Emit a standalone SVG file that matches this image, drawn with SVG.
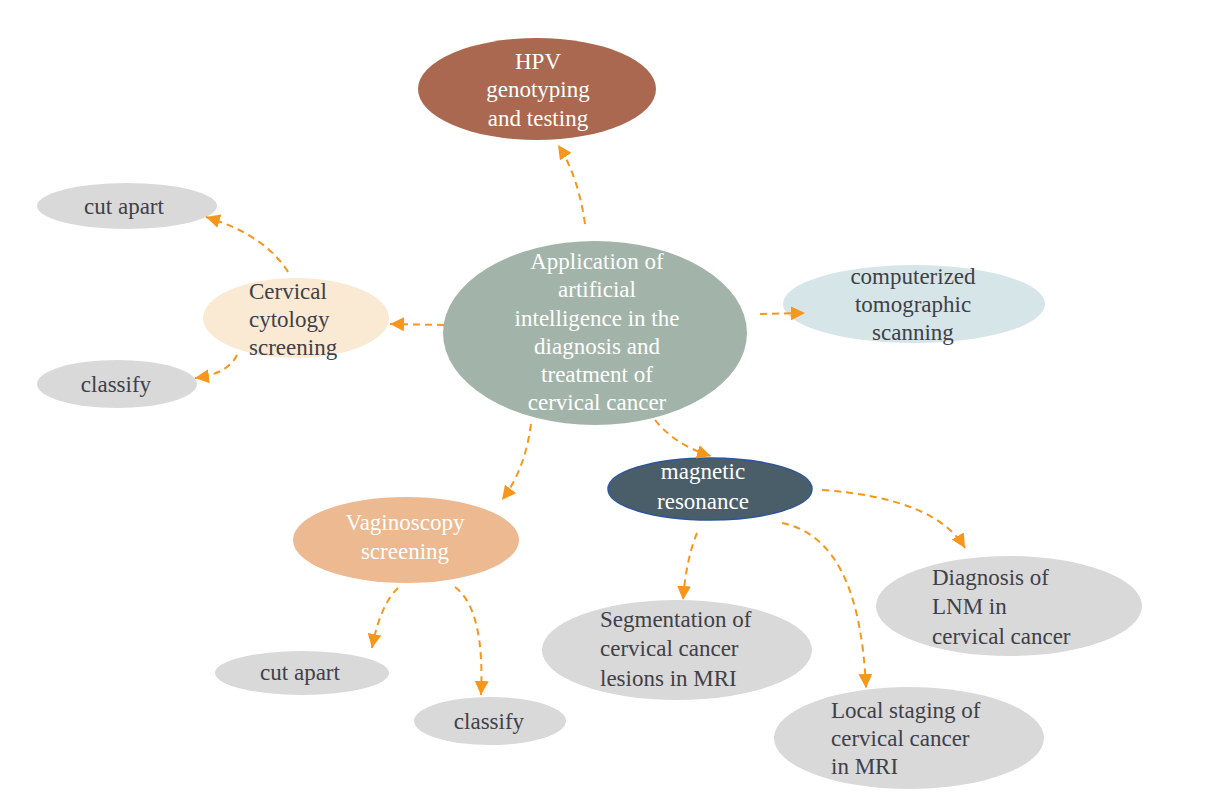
<svg xmlns="http://www.w3.org/2000/svg" width="1220" height="811" viewBox="0 0 1220 811" font-family="'Liberation Serif', 'Times New Roman', serif">
<style>
text{font-family:"Liberation Serif","Times New Roman",serif;font-size:23px}
.w{fill:#ffffff}
.d{fill:#404048}
.c{text-anchor:middle}
.gray{fill:#d9d9d9}
.edge{fill:none;stroke:#f7961d;stroke-width:2;stroke-dasharray:7 5}
</style>
<defs>
<marker id="ah" markerUnits="userSpaceOnUse" markerWidth="16" markerHeight="14" refX="14" refY="7" orient="auto">
<path d="M0,0 L14,7 L0,14 z" fill="#f7961d"/>
</marker>
</defs>
<rect width="1220" height="811" fill="#ffffff"/>
<g id="hpv">
<ellipse cx="537" cy="89" rx="119" ry="51" fill="#aa6850"/>
<text class="w c" x="538" y="69">HPV</text>
<text class="w c" x="538" y="97">genotyping</text>
<text class="w c" x="538" y="126">and testing</text>
</g>
<g id="center">
<ellipse cx="595" cy="333" rx="152" ry="92" fill="#a2b4a9"/>
<text class="w c" x="597" y="269">Application of</text>
<text class="w c" x="597" y="297">artificial</text>
<text class="w c" x="597" y="326">intelligence in the</text>
<text class="w c" x="597" y="354">diagnosis and</text>
<text class="w c" x="597" y="382">treatment of</text>
<text class="w c" x="597" y="410">cervical cancer</text>
</g>
<g id="ct">
<ellipse cx="914" cy="304" rx="131" ry="39" fill="#d6e5e7"/>
<text class="d c" x="913" y="284">computerized</text>
<text class="d c" x="913" y="312">tomographic</text>
<text class="d c" x="913" y="340">scanning</text>
</g>
<g id="cytology">
<ellipse cx="296" cy="318" rx="93" ry="40" fill="#fae9d3"/>
<text class="d" x="249" y="299">Cervical</text>
<text class="d" x="249" y="327">cytology</text>
<text class="d" x="249" y="355">screening</text>
</g>
<g id="cutapart1">
<ellipse cx="127" cy="206" rx="90" ry="23" class="gray"/>
<text class="d c" x="124" y="214">cut apart</text>
</g>
<g id="classify1">
<ellipse cx="117" cy="384" rx="80" ry="24" class="gray"/>
<text class="d c" x="116" y="392">classify</text>
</g>
<g id="vaginoscopy">
<ellipse cx="406" cy="540" rx="113" ry="43" fill="#edb990"/>
<text class="w c" x="405" y="530">Vaginoscopy</text>
<text class="w c" x="405" y="559">screening</text>
</g>
<g id="mri">
<ellipse cx="710" cy="489" rx="102" ry="31" fill="#4a5e6a" stroke="#2f5597" stroke-width="1.5"/>
<text class="w c" x="703" y="479">magnetic</text>
<text class="w c" x="703" y="509">resonance</text>
</g>
<g id="segmentation">
<ellipse cx="677" cy="650" rx="135" ry="50" class="gray"/>
<text class="d" x="600" y="627">Segmentation of</text>
<text class="d" x="600" y="656">cervical cancer</text>
<text class="d" x="600" y="686">lesions in MRI</text>
</g>
<g id="lnm">
<ellipse cx="1009" cy="606" rx="133" ry="50" class="gray"/>
<text class="d" x="932" y="585">Diagnosis of</text>
<text class="d" x="932" y="614">LNM in</text>
<text class="d" x="932" y="644">cervical cancer</text>
</g>
<g id="staging">
<ellipse cx="909" cy="738" rx="135" ry="51" class="gray"/>
<text class="d" x="831" y="718">Local staging of</text>
<text class="d" x="831" y="746">cervical cancer</text>
<text class="d" x="831" y="774">in MRI</text>
</g>
<g id="cutapart2">
<ellipse cx="302" cy="673" rx="87" ry="22" class="gray"/>
<text class="d c" x="300" y="680">cut apart</text>
</g>
<g id="classify2">
<ellipse cx="490" cy="721" rx="76" ry="24" class="gray"/>
<text class="d c" x="489" y="729">classify</text>
</g>
<g id="connectors">
<path class="edge" marker-end="url(#ah)" d="M585,224 Q578,175 558,145"/>
<path class="edge" marker-end="url(#ah)" d="M444,325 L390,324"/>
<path class="edge" marker-end="url(#ah)" d="M288,272 Q265,235 206,217"/>
<path class="edge" marker-end="url(#ah)" d="M237,355 Q228,374 195,378"/>
<path class="edge" marker-end="url(#ah)" d="M760,314 L805,313"/>
<path class="edge" marker-end="url(#ah)" d="M655,420 Q675,445 711,456"/>
<path class="edge" marker-end="url(#ah)" d="M531,424 Q525,470 502,500"/>
<path class="edge" marker-end="url(#ah)" d="M822,490 Q935,498 965,548"/>
<path class="edge" marker-end="url(#ah)" d="M782,523 C840,535 862,600 866,688"/>
<path class="edge" marker-end="url(#ah)" d="M697,533 Q686,560 683,600"/>
<path class="edge" marker-end="url(#ah)" d="M398,588 Q380,605 372,648"/>
<path class="edge" marker-end="url(#ah)" d="M455,587 Q485,610 481,695"/>
</g>
</svg>
